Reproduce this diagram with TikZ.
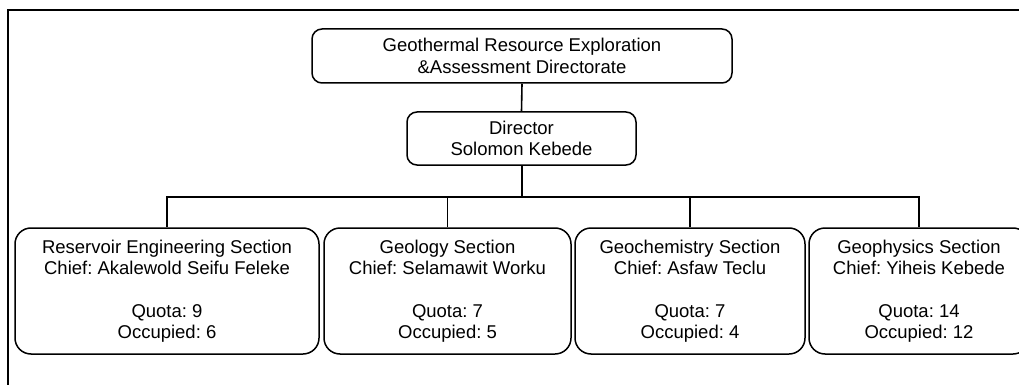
\documentclass[tikz,border=0pt]{standalone}
\usepackage{fontspec}
\setmainfont{Liberation Sans}
\frenchspacing
\begin{document}
\begin{tikzpicture}[x=1pt,y=-1pt,
  box/.style={draw=black,line width=1.5pt,rounded corners=#1,align=center,inner sep=0pt,
    font=\fontsize{18.5}{21.3}\selectfont},
  box/.default=10pt,
  link/.style={draw=black,line width=1.6pt},
  frame/.style={draw=black,line width=2pt}]
\path[use as bounding box,clip] (0,0) rectangle (1019,385);
\fill[white] (0,0) rectangle (1019,385);
\draw[frame] (7.5,10) rectangle (1040,400);
\node[box,minimum width=420pt,minimum height=54pt] (top) at (522,56)
  {Geothermal Resource Exploration\\\&Assessment Directorate};
\node[box,minimum width=229pt,minimum height=53pt] (dir) at (521.5,138.5)
  {Director\\Solomon Kebede};
\node[box=16pt,minimum width=304pt,minimum height=126pt] (s1) at (167,291)
  {Reservoir Engineering Section\\Chief: Akalewold Seifu Feleke\\[21.3pt]Quota: 9\\Occupied: 6};
\node[box=16pt,minimum width=247pt,minimum height=126pt] (s2) at (447.5,291)
  {Geology Section\\Chief: Selamawit Worku\\[21.3pt]Quota: 7\\Occupied: 5};
\node[box=16pt,minimum width=230pt,minimum height=126pt] (s3) at (690,291)
  {Geochemistry Section\\Chief: Asfaw Teclu\\[21.3pt]Quota: 7\\Occupied: 4};
\node[box=16pt,minimum width=220pt,minimum height=126pt] (s4) at (919,291)
  {Geophysics Section\\Chief: Yiheis Kebede\\[21.3pt]Quota: 14\\Occupied: 12};
\coordinate (bus) at (521.5,197);
\draw[link] (top.south) -- (dir.north);
\draw[link,line width=2pt] (dir.south) -- (bus);
\draw[link] (s1.north) |- (bus) -| (s4.north);
\draw[link] (s2.north) -- (s2.north |- bus);
\draw[link] (s3.north) -- (s3.north |- bus);
\end{tikzpicture}
\end{document}
